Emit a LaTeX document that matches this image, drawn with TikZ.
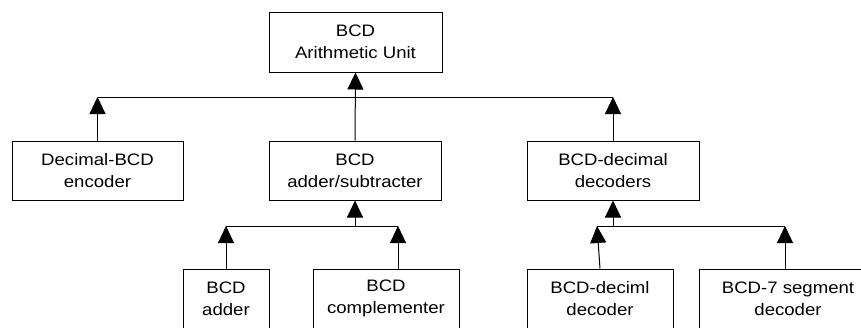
\documentclass[tikz,border=0pt]{standalone}
\usepackage{fontspec}
\setmainfont{Liberation Sans}[FakeStretch=1.12]
\usetikzlibrary{arrows.meta}
\begin{document}
\begin{tikzpicture}[x=1pt,y=-1pt,
  blk/.style={draw,line width=1pt,align=center,inner sep=0pt,
    font=\fontsize{16.6}{22}\selectfont},
  arr/.style={line width=1pt,-{Triangle[length=17pt,width=16pt]}},
  wire/.style={line width=1pt}]
  \useasboundingbox (0,0) rectangle (861,327);
  \fill[white] (0,0) rectangle (861,327);
  \clip (0,0) rectangle (861,327);
  % top level
  \node[blk,minimum width=173pt,minimum height=60pt] (top) at (355.5,42) {BCD\\Arithmetic Unit};
  % second level
  \node[blk,minimum width=171pt,minimum height=59pt] (enc) at (97.5,170.5) {Decimal-BCD\\encoder};
  \node[blk,minimum width=172pt,minimum height=59pt] (addsub) at (355,170.5) {BCD\\adder/subtracter};
  \node[blk,minimum width=172pt,minimum height=59pt] (dec) at (613,170.5) {BCD-decimal\\decoders};
  % third level
  \node[blk,minimum width=86pt,minimum height=59pt] (adder) at (226,298.5) {BCD\\adder};
  \node[blk,minimum width=146pt,minimum height=59pt] (comp) at (386,298.5) {BCD\\complementer};
  \node[blk,minimum width=146pt,minimum height=59pt] (deciml) at (600,298.5) {BCD-deciml\\decoder};
  \node[blk,minimum width=178pt,minimum height=59pt] (seg) at (788,298.5) {BCD-7 segment\\decoder};
  % buses
  \coordinate (bus1) at (355,97);
  \coordinate (bus2) at (355,226);
  \coordinate (compstem) at (398,269);
  \coordinate (decstem) at (597,226);
  \coordinate (segstem) at (785,269);
  \draw[wire] (enc.north |- bus1) -- (dec.north |- bus1);
  \draw[arr] (addsub.north) -- (top.south);
  \draw[arr] (enc.north) -- (enc.north |- bus1);
  \draw[arr] (dec.north) -- (dec.north |- bus1);
  \draw[wire] (adder.north |- bus2) -- (compstem |- bus2);
  \draw[arr] (bus2) -- (addsub.south);
  \draw[arr] (adder.north) -- (adder.north |- bus2);
  \draw[arr] (compstem) -- (compstem |- bus2);
  \draw[wire] (decstem) -- (segstem |- bus2);
  \draw[arr] (dec.south |- bus2) -- (dec.south);
  \draw[arr] (deciml.north) -- (decstem);
  \draw[arr] (segstem) -- (segstem |- bus2);
\end{tikzpicture}
\end{document}
